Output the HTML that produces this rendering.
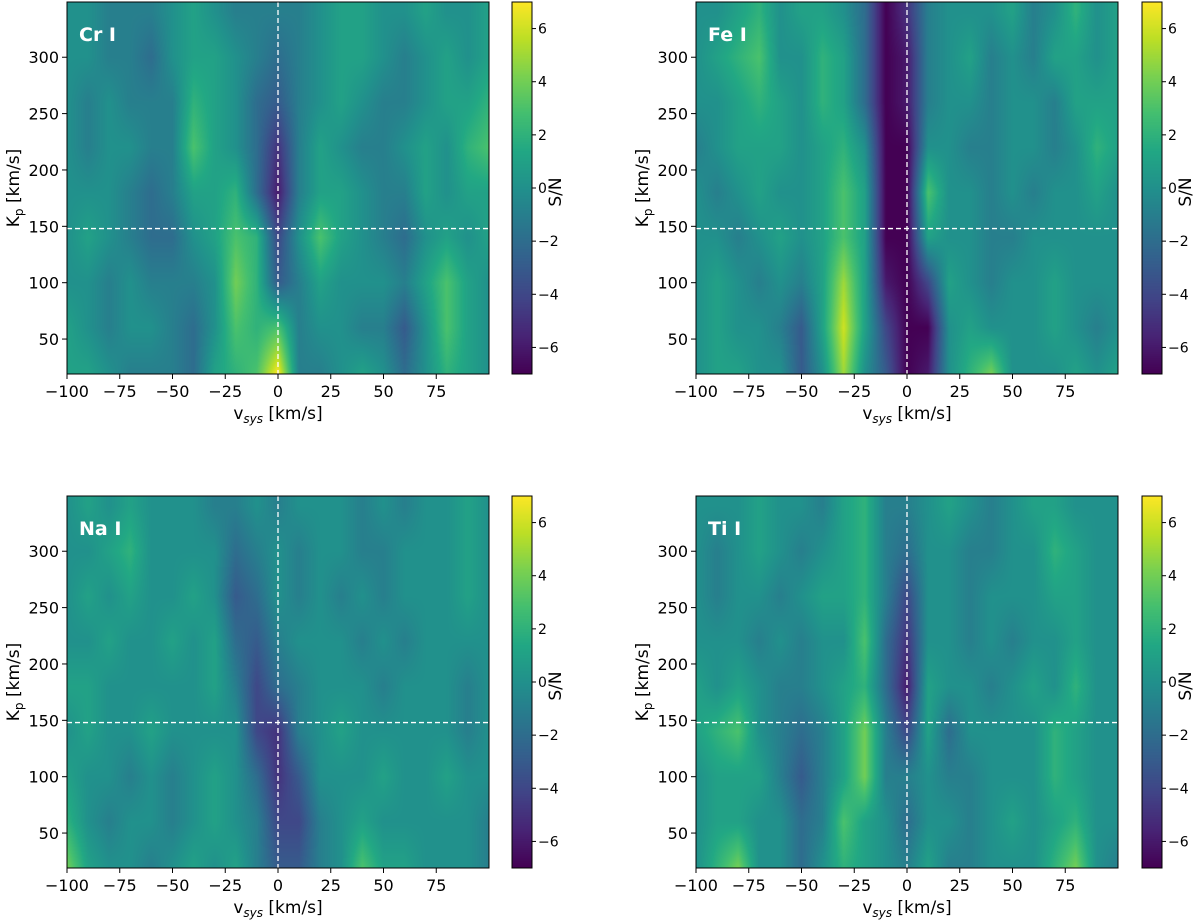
<!DOCTYPE html>
<html><head><meta charset="utf-8">
<style>
body{margin:0;background:#fff;width:1200px;height:920px;overflow:hidden;font-family:"DejaVu Sans","Liberation Sans",sans-serif;}
#wrap{position:relative;width:1200px;height:920px;}
canvas{position:absolute;}
svg{position:absolute;left:0;top:0;font-family:"DejaVu Sans","Liberation Sans",sans-serif;}
</style></head>
<body>
<div id="wrap">
<svg id="ov" width="1200" height="920"></svg>
</div>
<script>
// ---- data ----
const vsysGrid=[-100,-90,-80,-70,-60,-50,-40,-30,-20,-10,0,10,20,30,40,50,60,70,80,90,100];
const kpGrid=[340,300,260,220,180,140,100,60,20];
const xTicks=[-100,-75,-50,-25,0,25,50,75];
const yTicks=[50,100,150,200,250,300];
const cbTicks=[-6,-4,-2,0,2,4,6];
const panelNames=["Cr I","Fe I","Na I","Ti I"];
const crValues=[
[0,0,-1,-1,-1,0,1,0,-1,-1,-1,-1,0,1,1,0,0,1,0,0,1],
[0,0,-1,-1,-2,0,1,1,0,-1,-2,-1,0,1,1,0,-1,0,1,0,1],
[0,-1,0,-1,-1,-1,2,1,0,-2,-3,-1,0,1,0,-1,-1,0,1,1,2],
[0,-1,0,0,-1,-1,3,1,0,-2,-5,-1,1,0,-1,-1,0,1,0,2,3],
[0,0,0,-1,-2,-1,1,1,2,-2,-6,-1,1,1,0,-1,-1,1,0,1,1],
[0,1,0,-1,-2,-2,0,1,3,2,-4,0,3,1,0,-1,-2,0,1,0,1],
[0,0,-1,0,-1,-1,-1,0,4,2,-3,-1,1,0,0,0,-1,1,3,1,0],
[1,0,-1,0,0,-1,-2,0,3,2,3,-1,0,0,-1,-1,-3,0,3,1,0],
[1,1,0,-1,-1,-1,-2,1,2,3,7,-1,-1,0,1,0,-2,0,2,1,0]];
const feValues=[
[0,0,1,2,0,1,1,0,-2,-7,-5,-1,0,0,0,1,-1,0,2,0,1],
[0,1,2,3,0,0,2,1,-2,-7,-6,-1,0,1,-1,0,-1,1,1,0,1],
[0,0,1,2,1,0,2,1,-2,-7,-6,-1,0,0,-1,0,0,-1,1,1,1],
[-1,0,1,1,1,0,1,2,0,-7,-7,0,0,-1,-1,0,0,-1,0,2,1],
[0,-1,0,1,0,0,1,3,1,-7,-7,3,0,0,-1,0,-1,0,0,1,0],
[0,0,-1,0,1,0,1,3,1,-7,-7,1,0,0,-1,-1,0,0,0,0,0],
[0,1,0,-1,0,-1,1,5,1,-6,-7,-4,1,0,-1,0,0,1,0,0,0],
[0,1,0,0,-1,-3,1,6,1,-4,-7,-7,0,1,0,0,0,1,0,-1,0],
[0,1,1,0,0,-3,0,5,0,-3,-7,-6,0,2,4,0,0,0,1,0,1]];
const naValues=[
[0,1,0,1,0,0,0,-1,-1,0,-1,0,0,0,-1,0,-1,0,0,1,0],
[0,0,1,2,0,0,0,0,-2,-1,0,-1,0,0,-1,-1,0,0,0,1,0],
[0,1,0,1,0,0,1,0,-3,-2,0,-1,0,-1,0,-1,0,0,0,1,0],
[0,0,1,0,0,1,0,1,-2,-3,-1,0,0,0,-1,0,-1,0,0,0,0],
[1,1,0,0,0,0,0,1,-1,-4,-2,-1,0,0,0,-1,0,0,0,-1,0],
[0,1,0,0,1,0,0,0,0,-4,-5,-1,0,1,0,0,0,0,0,-1,0],
[1,0,0,-1,0,-1,0,1,0,-2,-5,-3,0,0,0,1,0,0,1,0,0],
[2,0,-1,0,0,-1,0,1,0,-1,-4,-4,-1,0,1,0,0,0,0,0,-1],
[4,1,0,0,-1,0,1,0,1,-1,-3,-3,-1,0,3,1,1,0,0,0,-1]];
const tiValues=[
[0,0,0,1,0,0,-1,1,2,-1,-1,0,1,0,-1,0,1,1,0,0,0],
[0,-1,0,1,0,-1,0,1,2,-1,-2,0,0,-1,-1,0,0,2,1,0,0],
[0,-1,0,0,-1,0,1,1,2,-1,-4,0,0,-1,0,0,0,1,1,0,0],
[0,0,0,-1,0,-1,0,0,3,-2,-5,0,0,-1,0,-1,0,0,1,0,0],
[1,0,1,0,-1,-1,0,1,2,-2,-6,1,0,0,-1,0,1,0,2,0,0],
[1,2,3,0,-1,-2,-1,1,4,-1,-4,1,-2,0,0,0,0,2,1,0,0],
[0,1,1,1,-1,-3,-1,1,4,-1,-1,0,-1,-1,0,0,0,2,1,0,0],
[0,1,1,0,0,-2,-1,3,1,0,-2,0,0,-1,0,1,0,1,2,0,0],
[0,2,4,0,0,-2,0,2,1,0,-1,1,-1,-1,0,0,0,2,4,0,-1]];
const panelValues=[crValues,feValues,naValues,tiValues];

// ---- layout ----
const PW=422,PH=372;
const panels=[{x:67,y:2,cb:512},{x:696,y:2,cb:1142},{x:67,y:496,cb:512},{x:696,y:496,cb:1142}];
const XMIN=-100,XMAX=100,YMIN=19,YMAX=349,VMIN=-7,VMAX=7;
const xs=(v,p)=>p.x+(v-XMIN)/(XMAX-XMIN)*PW;
const ys=(k,p)=>p.y+(YMAX-k)/(YMAX-YMIN)*PH;
const vir=[[68,1,84],[72,36,117],[65,68,135],[53,95,141],[42,120,142],[33,145,140],[34,168,132],[68,191,112],[122,209,81],[189,223,38],[253,231,37]];
function cmap(v){let t=(v-VMIN)/(VMAX-VMIN);t=Math.max(0,Math.min(1,t))*10;const i=Math.min(9,Math.floor(t)),f=t-i;const a=vir[i],b=vir[i+1];return[a[0]+(b[0]-a[0])*f,a[1]+(b[1]-a[1])*f,a[2]+(b[2]-a[2])*f];}
function sample(arr,v,k){
  let fi=(v-vsysGrid[0])/(vsysGrid[1]-vsysGrid[0]);
  let fj=(k-kpGrid[0])/(kpGrid[1]-kpGrid[0]);
  fi=Math.max(0,Math.min(vsysGrid.length-1,fi));fj=Math.max(0,Math.min(kpGrid.length-1,fj));
  const i=Math.min(vsysGrid.length-2,Math.floor(fi)),j=Math.min(kpGrid.length-2,Math.floor(fj));
  const a=fi-i,b=fj-j;
  return arr[j][i]*(1-a)*(1-b)+arr[j][i+1]*a*(1-b)+arr[j+1][i]*(1-a)*b+arr[j+1][i+1]*a*b;
}
const wrap=document.getElementById('wrap');
const svg=document.getElementById('ov');
const NS='http://www.w3.org/2000/svg';
function el(tag,attrs,parent){const e=document.createElementNS(NS,tag);for(const k in attrs)e.setAttribute(k,attrs[k]);(parent||svg).appendChild(e);return e;}
panels.forEach((p,pi)=>{
  const vals=panelValues[pi];
  const c=document.createElement('canvas');
  c.width=PW;c.height=PH;c.style.left=p.x+'px';c.style.top=p.y+'px';
  
  
  wrap.insertBefore(c,svg);
  const ctx=c.getContext('2d');const img=ctx.createImageData(PW,PH);
  for(let py=0;py<PH;py++){const k=YMAX-(py+0.5)/PH*(YMAX-YMIN);
    for(let px=0;px<PW;px++){const v=XMIN+(px+0.5)/PW*(XMAX-XMIN);
      const col=cmap(sample(vals,v,k));const o=(py*PW+px)*4;
      img.data[o]=col[0];img.data[o+1]=col[1];img.data[o+2]=col[2];img.data[o+3]=255;}}
  ctx.putImageData(img,0,0);
  const cb=document.createElement('canvas');cb.width=20;cb.height=PH;
  cb.style.left=p.cb+'px';cb.style.top=p.y+'px';
  
  
  wrap.insertBefore(cb,svg);
  const cc=cb.getContext('2d');
  for(let py=0;py<PH;py++){const col=cmap(VMAX-(py+0.5)/PH*(VMAX-VMIN));cc.fillStyle=`rgb(${col[0]|0},${col[1]|0},${col[2]|0})`;cc.fillRect(0,py,20,1);}
  const g=el('g',{});
  
  
  const vl=el('line',{x1:xs(0,p),x2:xs(0,p),y1:p.y,y2:p.y+PH,stroke:'#fff','stroke-width':1.3,'stroke-dasharray':'5,3'},g);
  
  
  const hl=el('line',{x1:p.x,x2:p.x+PW,y1:ys(148,p),y2:ys(148,p),stroke:'#fff','stroke-width':1.3,'stroke-dasharray':'5,3'},g);
  
  
  el('rect',{x:p.x,y:p.y,width:PW,height:PH,fill:'none',stroke:'#000','stroke-width':1},g);
  el('rect',{x:p.cb,y:p.y,width:20,height:PH,fill:'none',stroke:'#000','stroke-width':1},g);
  const t=el('text',{x:p.x+12,y:p.y+39,fill:'#fff','font-size':19,'font-weight':'bold'},g);t.textContent=panelNames[pi];
  
  
  xTicks.forEach(v=>{const x=xs(v,p);el('line',{x1:x,x2:x,y1:p.y+PH,y2:p.y+PH+5,stroke:'#000'},g);
    const tx=el('text',{x:x,y:p.y+PH+23,'text-anchor':'middle','font-size':16},g);tx.textContent=v<0?'\u2212'+(-v):v;
    
    });
  yTicks.forEach(k=>{const y=ys(k,p);el('line',{x1:p.x-5,x2:p.x,y1:y,y2:y,stroke:'#000'},g);
    const ty=el('text',{x:p.x-8,y:y+6,'text-anchor':'end','font-size':16},g);ty.textContent=k;
    
    });
  cbTicks.forEach(v=>{const y=p.y+(VMAX-v)/(VMAX-VMIN)*PH;el('line',{x1:p.cb+20,x2:p.cb+24,y1:y,y2:y,stroke:'#000'},g);
    const tc=el('text',{x:p.cb+26,y:y+5,'font-size':14},g);tc.textContent=v<0?'\u2212'+(-v):v;
    
    });
  const xl=el('text',{x:p.x+PW/2,y:p.y+PH+45,'text-anchor':'middle','font-size':17},g);
  xl.innerHTML='v<tspan font-size="12" font-style="italic" dy="4">sys</tspan><tspan dy="-4"> [km/s]</tspan>';
  
  
  const yl=el('text',{transform:`translate(${p.x-48},${p.y+PH/2}) rotate(-90)`,'text-anchor':'middle','font-size':17},g);
  yl.innerHTML='K<tspan font-size="12" dy="4">p</tspan><tspan dy="-4"> [km/s]</tspan>';
  
  
  const cl=el('text',{transform:`translate(${p.cb+49},${p.y+PH/2+4}) rotate(-90)`,'text-anchor':'middle','font-size':17},g);
  cl.textContent='S/N';
  
  
});
</script>
</body></html>
